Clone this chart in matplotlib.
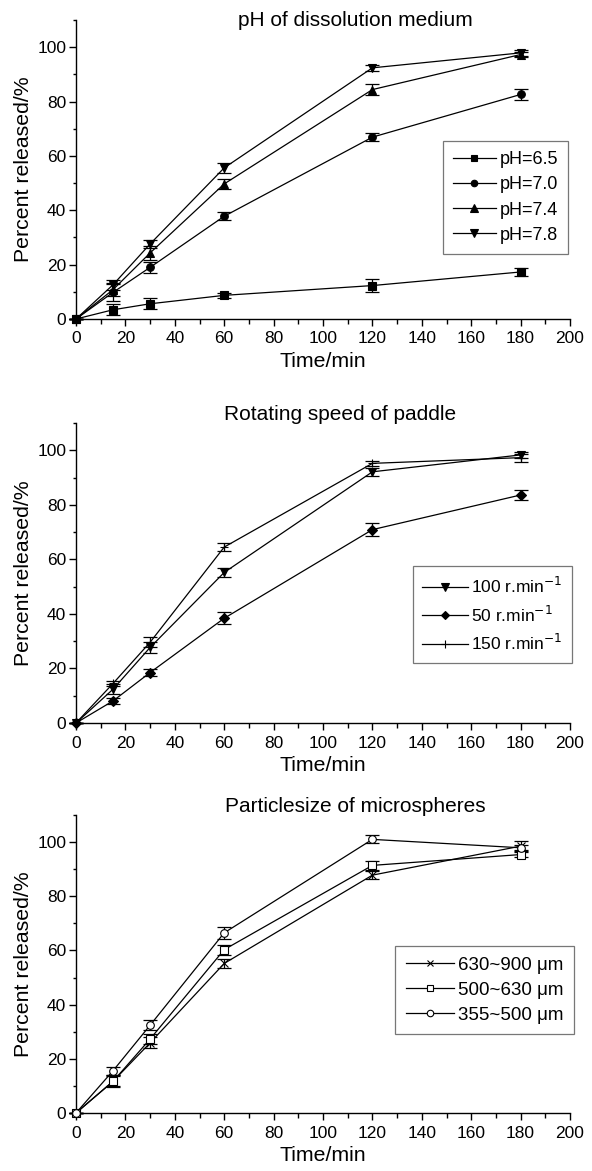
import matplotlib
matplotlib.use("Agg")
import matplotlib.pyplot as plt
from matplotlib.ticker import MultipleLocator

plt.rcParams['font.family'] = ['Liberation Sans', 'DejaVu Sans']

time = [0, 15, 30, 60, 120, 180]

# Panel 1: pH of dissolution medium
ph_labels = ["pH=6.5", "pH=7.0", "pH=7.4", "pH=7.8"]
ph65 = [0, 3.4, 5.6, 8.7, 12.3, 17.3]
ph65_err = [0, 2.0, 2.1, 1.0, 2.3, 1.3]
ph70 = [0, 9.8, 19.0, 37.8, 66.9, 82.6]
ph70_err = [0, 3.0, 2.1, 1.5, 1.5, 2.1]
ph74 = [0, 10.8, 24.3, 49.7, 84.4, 97.3]
ph74_err = [0, 2.5, 2.5, 1.7, 2.1, 1.0]
ph78 = [0, 12.6, 27.6, 55.6, 92.4, 97.9]
ph78_err = [0, 1.8, 1.5, 1.8, 1.0, 1.0]

# Panel 2: rotating speed of paddle
rpm_labels = ["100 r.min$^{-1}$", "50 r.min$^{-1}$", "150 r.min$^{-1}$"]
rpm100 = [0, 12.4, 27.7, 55.2, 92.1, 98.3]
rpm100_err = [0, 1.8, 2.0, 1.8, 1.5, 1.0]
rpm50 = [0, 8.1, 18.5, 38.4, 70.9, 83.6]
rpm50_err = [0, 1.2, 1.2, 2.2, 2.4, 2.0]
rpm150 = [0, 14.5, 29.6, 64.5, 95.2, 97.3]
rpm150_err = [0, 1.0, 1.8, 1.5, 1.0, 1.5]

# Panel 3: particle size of microspheres
size_labels = ["630~900 \u03bcm", "500~630 \u03bcm", "355~500 \u03bcm"]
s630 = [0, 11.7, 25.9, 55.2, 87.8, 98.5]
s630_err = [0, 2.2, 2.0, 1.8, 1.5, 1.8]
s500 = [0, 11.7, 27.3, 60.3, 91.4, 95.4]
s500_err = [0, 1.8, 2.0, 1.8, 1.8, 1.0]
s355 = [0, 15.6, 32.4, 66.5, 101.0, 97.9]
s355_err = [0, 1.5, 1.8, 2.2, 1.5, 1.0]

titles = ["pH of dissolution medium", "Rotating speed of paddle", "Particlesize of microspheres"]

W, H = 592, 1171
fig = plt.figure(figsize=(W / 100, H / 100), dpi=100)

def make_ax(top_px, bottom_px, left_px=76, right_px=570):
    return fig.add_axes([left_px / W, 1 - bottom_px / H,
                         (right_px - left_px) / W, (bottom_px - top_px) / H])

def style(ax):
    ax.set_xlim(0, 200)
    ax.set_ylim(0, 110)
    ax.spines['top'].set_visible(False)
    ax.spines['right'].set_visible(False)
    for s in ('left', 'bottom'):
        ax.spines[s].set_linewidth(1.0)
    ax.xaxis.set_major_locator(MultipleLocator(20))
    ax.xaxis.set_minor_locator(MultipleLocator(10))
    ax.yaxis.set_minor_locator(MultipleLocator(10))
    ax.set_yticks([0, 20, 40, 60, 80, 100])
    ax.tick_params(which='major', direction='out', length=5, width=1.0, labelsize=12.5)
    ax.tick_params(axis='x', which='major', pad=4)
    ax.tick_params(axis='y', which='major', pad=2)
    ax.tick_params(axis='x', which='minor', direction='out', length=3.5, width=1.0)
    ax.tick_params(axis='y', which='minor', direction='out', length=2.5, width=1.0)
    ax.set_xlabel("Time/min", fontsize=15.3, labelpad=4)
    ax.set_ylabel("Percent released/%", fontsize=15.3, labelpad=3)

def series(ax, y, err, marker, ms, mfc, label):
    ax.errorbar(time, y, yerr=err, fmt='none', ecolor='black', elinewidth=0.9,
                capsize=4.7, capthick=0.9, clip_on=False, zorder=3)
    ax.plot(time, y, '-', color='black', lw=0.9, marker=marker, ms=ms,
            mfc=mfc, mec='black', mew=0.8, label=label, clip_on=False, zorder=4)

def legend(ax, anchor, spacing, fs, hl):
    leg = ax.legend(loc='upper right', bbox_to_anchor=anchor, fontsize=fs,
                    frameon=True, fancybox=False, edgecolor='#555555',
                    handlelength=hl, handletextpad=0.2, borderpad=0.55,
                    labelspacing=spacing, borderaxespad=0, markerscale=0.85)
    leg.get_frame().set_linewidth(0.9)

# Panel 1
ax1 = make_ax(20, 319)
series(ax1, ph65, ph65_err, 's', 5.5, 'black', ph_labels[0])
series(ax1, ph70, ph70_err, 'o', 5.5, 'black', ph_labels[1])
series(ax1, ph74, ph74_err, '^', 6, 'black', ph_labels[2])
series(ax1, ph78, ph78_err, 'v', 6, 'black', ph_labels[3])
style(ax1)
legend(ax1, (0.996, 0.594), 0.45, 13, 2.4)
fig.text(355 / W, 1 - 20 / H, titles[0], ha='center', va='center', fontsize=15)

# Panel 2
ax2 = make_ax(423, 723)
series(ax2, rpm100, rpm100_err, 'v', 6, 'black', rpm_labels[0])
series(ax2, rpm50, rpm50_err, 'D', 5, 'black', rpm_labels[1])
series(ax2, rpm150, rpm150_err, '+', 6, 'black', rpm_labels[2])
style(ax2)
legend(ax2, (1.004, 0.523), 0.5, 12.5, 2.6)
fig.text(340 / W, 1 - 415 / H, titles[1], ha='center', va='center', fontsize=15)

# Panel 3
ax3 = make_ax(815, 1113)
series(ax3, s630, s630_err, 'x', 5.5, 'none', size_labels[0])
series(ax3, s500, s500_err, 's', 5.5, 'white', size_labels[1])
series(ax3, s355, s355_err, 'o', 5.5, 'white', size_labels[2])
style(ax3)
legend(ax3, (1.008, 0.560), 0.42, 13.5, 2.6)
fig.text(355 / W, 1 - 807 / H, titles[2], ha='center', va='center', fontsize=15)

fig.savefig("out.png", dpi=100)
